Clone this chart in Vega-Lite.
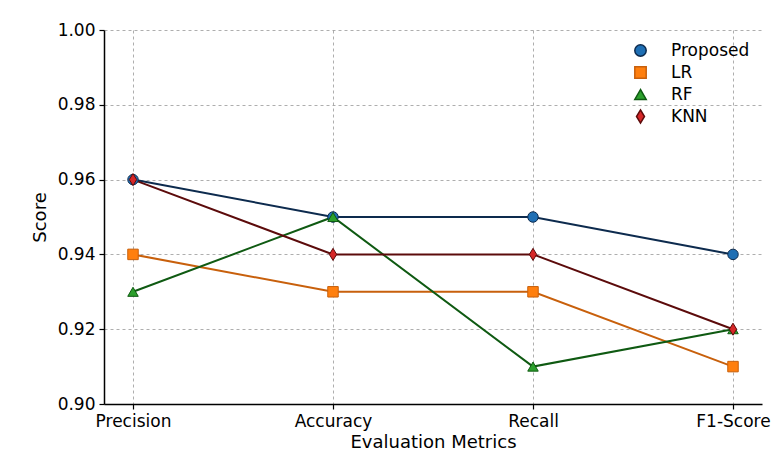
{
  "$schema": "https://vega.github.io/schema/vega-lite/v6.json",
  "width": 658,
  "height": 374,
  "autosize": {"type": "none"},
  "padding": {"left": 104, "top": 30, "right": 15, "bottom": 57},
  "background": "white",
  "data": {
    "values": [
      {"model": "Proposed", "metric": "Precision", "score": 0.96},
      {"model": "Proposed", "metric": "Accuracy", "score": 0.95},
      {"model": "Proposed", "metric": "Recall", "score": 0.95},
      {"model": "Proposed", "metric": "F1-Score", "score": 0.94},
      {"model": "LR", "metric": "Precision", "score": 0.94},
      {"model": "LR", "metric": "Accuracy", "score": 0.93},
      {"model": "LR", "metric": "Recall", "score": 0.93},
      {"model": "LR", "metric": "F1-Score", "score": 0.91},
      {"model": "RF", "metric": "Precision", "score": 0.93},
      {"model": "RF", "metric": "Accuracy", "score": 0.95},
      {"model": "RF", "metric": "Recall", "score": 0.91},
      {"model": "RF", "metric": "F1-Score", "score": 0.92},
      {"model": "KNN", "metric": "Precision", "score": 0.96},
      {"model": "KNN", "metric": "Accuracy", "score": 0.94},
      {"model": "KNN", "metric": "Recall", "score": 0.94},
      {"model": "KNN", "metric": "F1-Score", "score": 0.92}
    ]
  },
  "config": {
    "view": {"stroke": null},
    "font": "DejaVu Sans",
    "axis": {
      "domainColor": "#000000",
      "domainWidth": 1.5,
      "tickColor": "#000000",
      "tickWidth": 1.2,
      "tickSize": 5,
      "labelColor": "#000000",
      "labelFontSize": 17,
      "titleColor": "#000000",
      "titleFontSize": 18,
      "titleFontWeight": "normal",
      "gridColor": "#999999",
      "gridDash": [3, 3],
      "gridWidth": 0.8
    },
    "legend": {
      "orient": "top-right",
      "offset": 12,
      "symbolSize": 130,
      "symbolStrokeWidth": 1.5,
      "labelOffset": 22,
      "labelFontSize": 17,
      "labelColor": "#000000",
      "rowPadding": 3
    }
  },
  "encoding": {
    "x": {
      "field": "metric",
      "type": "nominal",
      "sort": ["Precision", "Accuracy", "Recall", "F1-Score"],
      "scale": {"type": "point", "padding": 0.145},
      "axis": {
        "title": "Evaluation Metrics",
        "labelAngle": 0,
        "grid": true,
        "labelPadding": 4,
        "titlePadding": 4
      }
    },
    "y": {
      "field": "score",
      "type": "quantitative",
      "scale": {"domain": [0.9, 1.0], "nice": false, "zero": false},
      "axis": {
        "title": "Score",
        "values": [0.9, 0.92, 0.94, 0.96, 0.98, 1.0],
        "format": ".2f",
        "grid": true,
        "labelPadding": 4,
        "titlePadding": 8
      }
    }
  },
  "layer": [
    {
      "transform": [{"filter": "datum.model === 'Proposed'"}],
      "mark": {"type": "line", "strokeWidth": 2, "color": "#0d2b4e"},
      "encoding": {}
    },
    {
      "transform": [{"filter": "datum.model === 'LR'"}],
      "mark": {"type": "line", "strokeWidth": 2, "color": "#c8600c"},
      "encoding": {}
    },
    {
      "transform": [{"filter": "datum.model === 'RF'"}],
      "mark": {"type": "line", "strokeWidth": 2, "color": "#0f5a12"},
      "encoding": {}
    },
    {
      "transform": [{"filter": "datum.model === 'KNN'"}],
      "mark": {"type": "line", "strokeWidth": 2, "color": "#5c0b0b"},
      "encoding": {}
    },
    {
      "mark": {"type": "point", "filled": true, "size": 110, "opacity": 1, "strokeWidth": 1},
      "encoding": {
        "stroke": {
          "field": "model",
          "type": "nominal",
          "title": null,
          "scale": {
            "domain": ["Proposed", "LR", "RF", "KNN"],
            "range": ["#0d2b4e", "#c8600c", "#0f5a12", "#5c0b0b"]
          }
        },
        "fill": {
          "field": "model",
          "type": "nominal",
          "title": null,
          "scale": {
            "domain": ["Proposed", "LR", "RF", "KNN"],
            "range": ["#1f6fb4", "#ff7f0e", "#2ca02c", "#d62728"]
          }
        },
        "shape": {
          "field": "model",
          "type": "nominal",
          "title": null,
          "scale": {
            "domain": ["Proposed", "LR", "RF", "KNN"],
            "range": ["circle", "square", "triangle-up", "M0,-1.15L0.7,0L0,1.15L-0.7,0Z"]
          }
        }
      }
    }
  ]
}
